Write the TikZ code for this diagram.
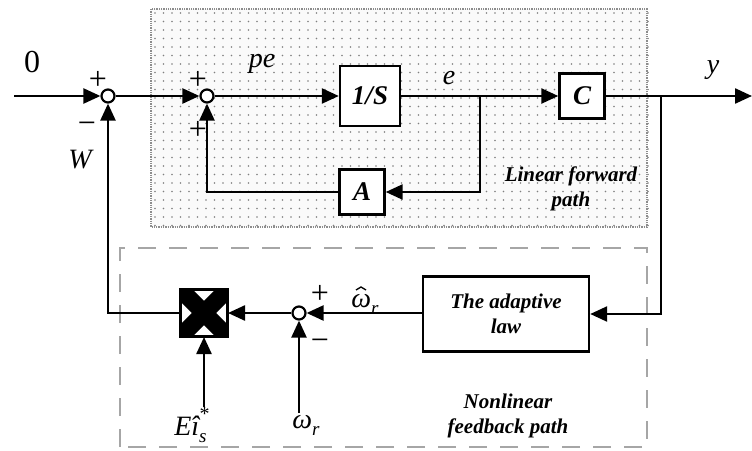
\documentclass[tikz,border=0pt]{standalone}
\usepackage{fontspec}
\setmainfont{Liberation Serif}
\usetikzlibrary{arrows.meta}
\newcommand\mysub[1]{\raisebox{-7pt}{\fontsize{19}{20}\selectfont #1}}
\tikzset{
  x=1pt,y=-1pt,
  wire/.style={line width=2.4pt},
  arr/.style={wire,-{Triangle[length=17pt,width=15pt]}},
  blk/.style={draw,line width=2.4pt,fill=white,minimum width=#1,minimum height=#1,inner sep=0pt},
  sumc/.style={draw,circle,line width=2.2pt,fill=white,minimum size=13pt,inner sep=0pt},
  lbl/.style={font=\fontsize{28}{30}\selectfont\itshape,inner sep=1pt},
  sgn/.style={font=\fontsize{32}{34}\selectfont,inner sep=1pt},
  bit/.style={font=\fontsize{21}{25}\selectfont\bfseries\itshape,align=center},
}
\begin{document}
\begin{tikzpicture}
\useasboundingbox (0,0) rectangle (752,450);
% shaded linear region
\fill[black!2] (151,9) rectangle (647,227);
\foreach \i in {0,...,58}{\foreach \j in {0,...,25}{
  \fill[black!50] (155+\i*8.5,13+\j*8.5) circle (0.8pt);}}
\draw[black!45,line width=1.3pt,densely dotted] (151,9) rectangle (647,227);
% nonlinear dashed region
\draw[black!35,line width=1.3pt,dash pattern=on 18pt off 13pt] (120,447) -- (120,248) -- (647,248) -- (647,447) -- cycle;

% nodes
\coordinate (in) at (14,96);
\node[sumc] (s1) at (108,96) {};
\node[sumc] (s2) at (207,96) {};
\node[blk=60pt,font=\fontsize{27}{28}\selectfont\bfseries\itshape] (int) at (370,96) {1/S};
\node[blk=45pt,font=\fontsize{27}{28}\selectfont\bfseries\itshape] (C) at (582,96) {C};
\node[blk=45pt,font=\fontsize{27}{28}\selectfont\bfseries\itshape] (A) at (362,192) {A};
\coordinate (j1) at (480,96);
\coordinate (j2) at (661,96);
\coordinate (out) at (752,96);
\node[draw,line width=2.4pt,fill=white,minimum width=166pt,minimum height=75pt,bit,inner sep=0pt] (law) at (506,314) {The adaptive\\law};
\node[sumc] (s3) at (299,313) {};
\node[draw,line width=2pt,fill=white,minimum size=46pt,inner sep=0pt] (mul) at (204,313) {};
\begin{scope}
\clip (mul.south west) rectangle (mul.north east);
\draw[line width=17pt] (mul.south west) -- (mul.north east);
\draw[line width=17pt] (mul.north west) -- (mul.south east);
\end{scope}
\draw[line width=2.2pt] (mul.south west) rectangle (mul.north east);
\coordinate (ei) at (204,407);
\coordinate (wr) at (299,413);

% connectors
\draw[arr] (in) -- (s1);
\draw[arr] (s1) -- (s2);
\draw[arr] (s2) -- (int);
\draw[arr] (int) -- (C);
\draw[arr] (C) -- (out);
\draw[arr] (j1) |- (A);
\draw[arr] (A) -| (s2);
\draw[arr] (j2) |- (law.east);
\draw[arr] (law.west |- s3) -- (s3);
\draw[arr] (s3) -- (mul);
\draw[arr] (mul.west) -| (s1);
\draw[arr] (ei) -- (mul);
\draw[arr] (wr) -- (s3);

% labels
\node[sgn] (l0) at (32,62) {0};
\node[sgn] (p1) at (98,80) {+};
\node[sgn] (m1) at (87,128) {\textminus};
\node[lbl] (lW) at (80,160) {W};
\node[sgn] (p2) at (198,80) {+};
\node[sgn] (p3) at (198,130) {+};
\node[lbl] (lpe) at (262,64) {pe};
\node[lbl] (le) at (449,78) {e};
\node[lbl] (ly) at (713,70) {y};
\node[bit] (lin) at (571,189) {Linear forward\\path};
\node[sgn] (p4) at (320,294) {+};
\node[sgn] (m3) at (320,345) {\textminus};
\node[lbl] (lwh) at (365,304) {ω\mysub{r}};
\coordinate (hatc) at (361,287);
\draw[line width=1.3pt] ([shift={(-5pt,-3pt)}]hatc) -- (hatc) -- ([shift={(5pt,-3pt)}]hatc);
\node[lbl] (lei) at (192,425) {Eî\mysub{s}\raisebox{15pt}{\kern-7pt\upshape\fontsize{20}{20}\selectfont *}};
\node[lbl] (lwr) at (306,425) {ω\mysub{r}};
\node[bit] (nl) at (508,416) {Nonlinear\\feedback path};
\end{tikzpicture}
\end{document}
